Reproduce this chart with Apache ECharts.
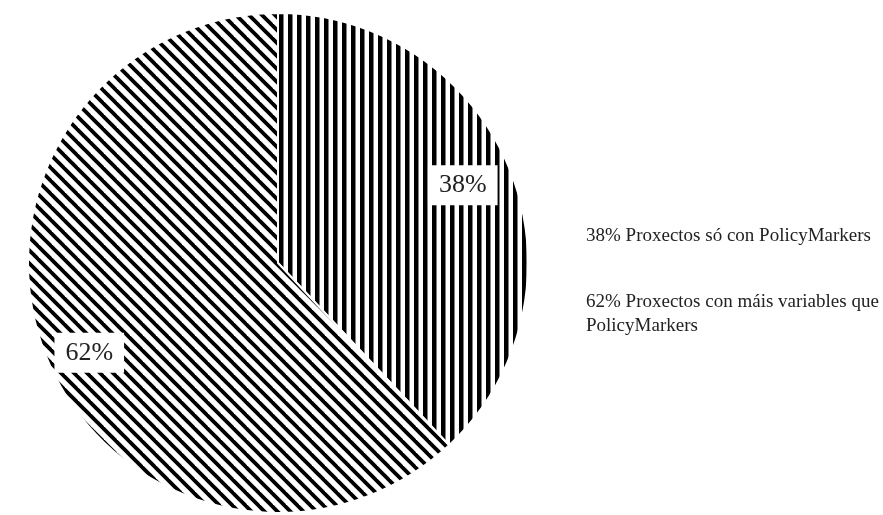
<!DOCTYPE html>
<html>
<head>
<meta charset="utf-8">
<script src="https://cdn.jsdelivr.net/npm/echarts@6/dist/echarts.min.js"></script>
<style>
  html, body { margin: 0; padding: 0; background: #fff; }
  #chart { width: 883px; height: 515px; }
</style>
</head>
<body>
<div id="chart"></div>
<script>
// datos do grafico
const categorias = ['Proxectos só con PolicyMarkers', 'Proxectos con máis variables que PolicyMarkers']
const valores    = [38, 62]

// tramas: raias verticais e raias diagonais
function tramaVertical() {
  var c = document.createElement('canvas')
  c.width  = 9
  c.height = 9
  var ctx = c.getContext('2d')
  ctx.fillStyle = '#fff'
  ctx.fillRect(0, 0, 9, 9)
  ctx.fillStyle = '#000'
  ctx.fillRect(0, 0, 4.5, 9)
  return c
}

function tramaDiagonal() {
  var s = 13
  var c = document.createElement('canvas')
  c.width  = s
  c.height = s
  var ctx = c.getContext('2d')
  ctx.fillStyle = '#fff'
  ctx.fillRect(0, 0, s, s)
  ctx.strokeStyle = '#000'
  ctx.lineWidth   = 3.8
  for (let k = -1; k <= 1; k++) {
    ctx.beginPath()
    ctx.moveTo(-s, -s + k * s)
    ctx.lineTo(2 * s, 2 * s + k * s)
    ctx.stroke()
  }
  return c
}

const tramas = [tramaVertical(), tramaDiagonal()]
// pequeno axuste da etiqueta de cada porcion
const desprazEtiqueta = [[-4, -3], [0, 15]]

const chart = echarts.init(document.getElementById('chart'), null, { renderer: 'canvas' })

const datos = categorias.map((nome, i) => ({
  name     : nome,
  value    : valores[i],
  itemStyle: { color: { image: tramas[i], repeat: 'repeat' } }
}))

const total = valores.reduce((a, b) => a + b, 0)

chart.setOption({
  animation: false,
  legend: {
    orient   : 'vertical',
    left     : 576,
    top      : 219,
    icon     : 'none',
    itemWidth: 0,
    itemHeight: 0,
    itemGap  : 42,
    selectedMode: false,
    formatter: nome => {
      var v = valores[categorias.indexOf(nome)]
      return Math.round(v / total * 100) + '% ' + nome
    },
    textStyle: {
      fontFamily: 'Liberation Serif',
      fontSize  : 19,
      color     : '#222',
      lineHeight: 24,
      width     : 320,
      overflow  : 'break'
    },
    data: categorias
  },
  series: [
    {
      type      : 'pie',
      center    : [278, 263],
      radius    : [0, 250],
      startAngle: 90,
      clockwise : true,
      silent    : true,
      label     : { show: false },
      labelLine : { show: false },
      itemStyle : { borderColor: '#fff', borderWidth: 2 },
      emphasis  : { disabled: true },
      data      : datos
    },
    {
      // capa transparente so para colocar as etiquetas
      type      : 'pie',
      center    : [278, 263],
      radius    : [150, 250],
      startAngle: 90,
      clockwise : true,
      silent    : true,
      legendHoverLink: false,
      itemStyle : { color: 'rgba(0,0,0,0)', borderWidth: 0 },
      emphasis  : { disabled: true },
      label: {
        show           : true,
        position       : 'inside',
        formatter      : '{d}%',
        fontFamily     : 'Liberation Serif',
        fontSize       : 26,
        color          : '#222',
        backgroundColor: '#fff',
        padding        : [7, 11]
      },
      labelLine: { show: false },
      data: categorias.map((nome, i) => ({
        name : nome + ' ',
        value: valores[i],
        label: { offset: desprazEtiqueta[i] }
      }))
    }
  ]
})
</script>
</body>
</html>
